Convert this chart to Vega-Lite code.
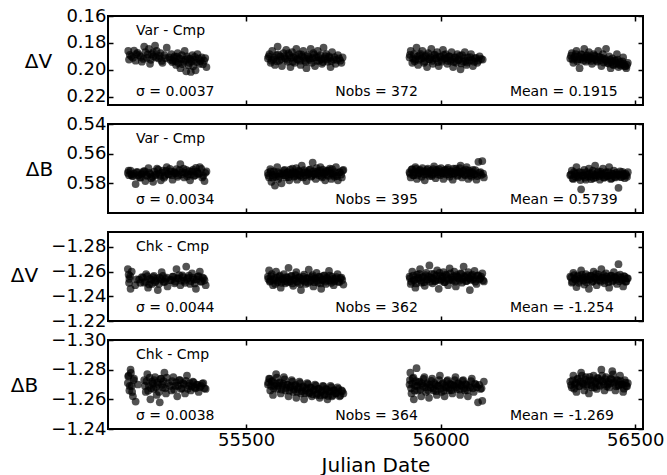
{
  "$schema": "https://vega.github.io/schema/vega-lite/v6.json",
  "padding": {"left": 9, "top": 6, "right": 2, "bottom": 1},
  "bounds": "flush",
  "spacing": 19,
  "config": {
    "view": {"stroke": "black", "strokeWidth": 2},
    "font": "DejaVu Sans",
    "axis": {
      "domain": false, "grid": false,
      "tickSize": -5, "tickWidth": 1.5, "tickColor": "black",
      "labelColor": "black", "labelFont": "DejaVu Sans", "labelFontSize": 18, "labelPadding": 7, "labelFlush": false,
      "titleColor": "black", "titleFont": "DejaVu Sans", "titleFontSize": 20, "titleFontWeight": "normal"
    },
    "circle": {"size": 60, "color": "black", "opacity": 0.68},
    "text": {"font": "DejaVu Sans", "fontSize": 14, "color": "black"}
  },
  "datasets": {
    "notes": [
      {"panel": 1, "label": "Var - Cmp", "jd": 55217, "mag": 0.1711},
      {"panel": 1, "label": "σ = 0.0037", "jd": 55217, "mag": 0.2160},
      {"panel": 1, "label": "Nobs = 372", "jd": 55729, "mag": 0.2160},
      {"panel": 1, "label": "Mean = 0.1915", "jd": 56178, "mag": 0.2160},
      {"panel": 2, "label": "Var - Cmp", "jd": 55217, "mag": 0.5501},
      {"panel": 2, "label": "σ = 0.0034", "jd": 55217, "mag": 0.5909},
      {"panel": 2, "label": "Nobs = 395", "jd": 55729, "mag": 0.5909},
      {"panel": 2, "label": "Mean = 0.5739", "jd": 56178, "mag": 0.5909},
      {"panel": 3, "label": "Chk - Cmp", "jd": 55217, "mag": -1.2799},
      {"panel": 3, "label": "σ = 0.0044", "jd": 55217, "mag": -1.2309},
      {"panel": 3, "label": "Nobs = 362", "jd": 55729, "mag": -1.2309},
      {"panel": 3, "label": "Mean = -1.254", "jd": 56178, "mag": -1.2309},
      {"panel": 4, "label": "Chk - Cmp", "jd": 55217, "mag": -1.2899},
      {"panel": 4, "label": "σ = 0.0038", "jd": 55217, "mag": -1.2491},
      {"panel": 4, "label": "Nobs = 364", "jd": 55729, "mag": -1.2491},
      {"panel": 4, "label": "Mean = -1.269", "jd": 56178, "mag": -1.2491}
    ],
    "varV": [
      {"jd":55197,"mag":0.1859},{"jd":55199,"mag":0.1923},{"jd":55205,"mag":0.1899},{"jd":55212,"mag":0.1856},{"jd":55218,"mag":0.1883},
      {"jd":55225,"mag":0.1891},{"jd":55232,"mag":0.1939},{"jd":55238,"mag":0.1827},{"jd":55241,"mag":0.1867},{"jd":55245,"mag":0.1910},
      {"jd":55250,"mag":0.1843},{"jd":55253,"mag":0.1955},{"jd":55258,"mag":0.1883},{"jd":55262,"mag":0.1899},{"jd":55266,"mag":0.1819},
      {"jd":55270,"mag":0.1859},{"jd":55275,"mag":0.1915},{"jd":55280,"mag":0.1875},{"jd":55285,"mag":0.1947},{"jd":55290,"mag":0.1891},
      {"jd":55296,"mag":0.1835},{"jd":55302,"mag":0.1907},{"jd":55308,"mag":0.1883},{"jd":55312,"mag":0.1931},{"jd":55316,"mag":0.1899},
      {"jd":55320,"mag":0.1963},{"jd":55324,"mag":0.1875},{"jd":55328,"mag":0.1915},{"jd":55331,"mag":0.1987},{"jd":55335,"mag":0.1891},
      {"jd":55339,"mag":0.1939},{"jd":55342,"mag":0.1859},{"jd":55346,"mag":0.2010},{"jd":55350,"mag":0.1915},{"jd":55354,"mag":0.1947},
      {"jd":55358,"mag":0.2015},{"jd":55362,"mag":0.1891},{"jd":55366,"mag":0.1923},{"jd":55370,"mag":0.2003},{"jd":55375,"mag":0.1883},
      {"jd":55380,"mag":0.1955},{"jd":55386,"mag":0.1907},{"jd":55392,"mag":0.1931},{"jd":55398,"mag":0.1979},
      {"jd":55201,"mag":0.1888},{"jd":55209,"mag":0.1910},{"jd":55216,"mag":0.1931},{"jd":55221,"mag":0.1873},{"jd":55229,"mag":0.1904},
      {"jd":55236,"mag":0.1918},{"jd":55247,"mag":0.1885},{"jd":55255,"mag":0.1925},{"jd":55261,"mag":0.1870},{"jd":55268,"mag":0.1907},
      {"jd":55277,"mag":0.1896},{"jd":55283,"mag":0.1933},{"jd":55293,"mag":0.1913},{"jd":55305,"mag":0.1925},{"jd":55310,"mag":0.1942},
      {"jd":55314,"mag":0.1910},{"jd":55319,"mag":0.1936},{"jd":55322,"mag":0.1901},{"jd":55326,"mag":0.1949},{"jd":55333,"mag":0.1920},
      {"jd":55337,"mag":0.1957},{"jd":55344,"mag":0.1926},{"jd":55348,"mag":0.1899},{"jd":55352,"mag":0.1965},{"jd":55356,"mag":0.1918},
      {"jd":55360,"mag":0.1937},{"jd":55364,"mag":0.1973},{"jd":55368,"mag":0.1904},{"jd":55373,"mag":0.1942},{"jd":55378,"mag":0.1917},
      {"jd":55383,"mag":0.1934},{"jd":55389,"mag":0.1957},{"jd":55395,"mag":0.1912},
      {"jd":55556,"mag":0.1915},{"jd":55560,"mag":0.1883},{"jd":55563,"mag":0.1947},{"jd":55567,"mag":0.1859},{"jd":55570,"mag":0.1923},
      {"jd":55574,"mag":0.1963},{"jd":55578,"mag":0.1891},{"jd":55581,"mag":0.1827},{"jd":55585,"mag":0.1931},{"jd":55588,"mag":0.1899},
      {"jd":55592,"mag":0.1971},{"jd":55596,"mag":0.1875},{"jd":55600,"mag":0.1915},{"jd":55603,"mag":0.1851},{"jd":55607,"mag":0.1939},
      {"jd":55611,"mag":0.1891},{"jd":55614,"mag":0.1979},{"jd":55618,"mag":0.1867},{"jd":55622,"mag":0.1907},{"jd":55625,"mag":0.1947},
      {"jd":55629,"mag":0.1843},{"jd":55633,"mag":0.1923},{"jd":55636,"mag":0.1883},{"jd":55640,"mag":0.1963},{"jd":55644,"mag":0.1899},
      {"jd":55647,"mag":0.1859},{"jd":55651,"mag":0.1931},{"jd":55655,"mag":0.1987},{"jd":55658,"mag":0.1891},{"jd":55662,"mag":0.1915},
      {"jd":55666,"mag":0.1843},{"jd":55669,"mag":0.1947},{"jd":55673,"mag":0.1875},{"jd":55677,"mag":0.1971},{"jd":55680,"mag":0.1907},
      {"jd":55684,"mag":0.1859},{"jd":55688,"mag":0.1931},{"jd":55691,"mag":0.1891},{"jd":55695,"mag":0.1955},{"jd":55699,"mag":0.1835},
      {"jd":55702,"mag":0.1915},{"jd":55706,"mag":0.1883},{"jd":55710,"mag":0.1939},{"jd":55713,"mag":0.1899},{"jd":55717,"mag":0.1979},
      {"jd":55721,"mag":0.1867},{"jd":55725,"mag":0.1923},{"jd":55730,"mag":0.1955},{"jd":55736,"mag":0.1891},{"jd":55742,"mag":0.1931},
      {"jd":55748,"mag":0.1907},
      {"jd":55558,"mag":0.1899},{"jd":55565,"mag":0.1931},{"jd":55572,"mag":0.1909},{"jd":55579,"mag":0.1936},{"jd":55583,"mag":0.1886},
      {"jd":55590,"mag":0.1920},{"jd":55598,"mag":0.1899},{"jd":55605,"mag":0.1925},{"jd":55609,"mag":0.1878},{"jd":55616,"mag":0.1910},
      {"jd":55620,"mag":0.1939},{"jd":55627,"mag":0.1896},{"jd":55631,"mag":0.1918},{"jd":55638,"mag":0.1931},{"jd":55642,"mag":0.1885},
      {"jd":55649,"mag":0.1910},{"jd":55653,"mag":0.1941},{"jd":55660,"mag":0.1901},{"jd":55664,"mag":0.1926},{"jd":55671,"mag":0.1913},
      {"jd":55675,"mag":0.1888},{"jd":55682,"mag":0.1933},{"jd":55686,"mag":0.1905},{"jd":55693,"mag":0.1920},{"jd":55697,"mag":0.1942},
      {"jd":55704,"mag":0.1897},{"jd":55708,"mag":0.1923},{"jd":55715,"mag":0.1910},{"jd":55719,"mag":0.1934},{"jd":55727,"mag":0.1905},
      {"jd":55733,"mag":0.1925},{"jd":55739,"mag":0.1915},{"jd":55745,"mag":0.1947},
      {"jd":55920,"mag":0.1907},{"jd":55923,"mag":0.1859},{"jd":55927,"mag":0.1947},{"jd":55931,"mag":0.1883},{"jd":55935,"mag":0.1923},
      {"jd":55938,"mag":0.1835},{"jd":55942,"mag":0.1963},{"jd":55946,"mag":0.1891},{"jd":55950,"mag":0.1915},{"jd":55953,"mag":0.1859},
      {"jd":55957,"mag":0.1947},{"jd":55961,"mag":0.1899},{"jd":55965,"mag":0.1979},{"jd":55968,"mag":0.1875},{"jd":55972,"mag":0.1923},
      {"jd":55976,"mag":0.1843},{"jd":55980,"mag":0.1955},{"jd":55983,"mag":0.1891},{"jd":55987,"mag":0.1915},{"jd":55991,"mag":0.1867},
      {"jd":55995,"mag":0.1971},{"jd":55998,"mag":0.1899},{"jd":56002,"mag":0.1939},{"jd":56006,"mag":0.1851},{"jd":56010,"mag":0.1915},
      {"jd":56013,"mag":0.1883},{"jd":56017,"mag":0.1955},{"jd":56021,"mag":0.1899},{"jd":56025,"mag":0.1931},{"jd":56028,"mag":0.1867},
      {"jd":56032,"mag":0.1979},{"jd":56036,"mag":0.1907},{"jd":56040,"mag":0.1947},{"jd":56043,"mag":0.1883},{"jd":56047,"mag":0.1923},
      {"jd":56051,"mag":0.1995},{"jd":56055,"mag":0.1891},{"jd":56058,"mag":0.1939},{"jd":56062,"mag":0.1867},{"jd":56066,"mag":0.1963},
      {"jd":56070,"mag":0.1907},{"jd":56074,"mag":0.1931},{"jd":56078,"mag":0.1883},{"jd":56083,"mag":0.1971},{"jd":56088,"mag":0.1915},
      {"jd":56094,"mag":0.1947},{"jd":56100,"mag":0.1899},{"jd":56108,"mag":0.1923},
      {"jd":55921,"mag":0.1888},{"jd":55929,"mag":0.1915},{"jd":55933,"mag":0.1936},{"jd":55940,"mag":0.1899},{"jd":55944,"mag":0.1925},
      {"jd":55948,"mag":0.1880},{"jd":55955,"mag":0.1910},{"jd":55959,"mag":0.1937},{"jd":55963,"mag":0.1891},{"jd":55970,"mag":0.1920},
      {"jd":55974,"mag":0.1905},{"jd":55978,"mag":0.1933},{"jd":55985,"mag":0.1886},{"jd":55989,"mag":0.1917},{"jd":55993,"mag":0.1942},
      {"jd":56000,"mag":0.1904},{"jd":56004,"mag":0.1925},{"jd":56008,"mag":0.1889},{"jd":56015,"mag":0.1913},{"jd":56019,"mag":0.1934},
      {"jd":56023,"mag":0.1899},{"jd":56030,"mag":0.1921},{"jd":56034,"mag":0.1941},{"jd":56038,"mag":0.1907},{"jd":56045,"mag":0.1929},
      {"jd":56049,"mag":0.1896},{"jd":56053,"mag":0.1952},{"jd":56060,"mag":0.1912},{"jd":56064,"mag":0.1933},{"jd":56068,"mag":0.1945},
      {"jd":56076,"mag":0.1905},{"jd":56081,"mag":0.1925},{"jd":56086,"mag":0.1939},{"jd":56091,"mag":0.1910},{"jd":56097,"mag":0.1931},
      {"jd":56104,"mag":0.1918},
      {"jd":56333,"mag":0.1915},{"jd":56337,"mag":0.1875},{"jd":56341,"mag":0.1947},{"jd":56345,"mag":0.1899},{"jd":56349,"mag":0.1859},
      {"jd":56353,"mag":0.1923},{"jd":56357,"mag":0.1987},{"jd":56361,"mag":0.1883},{"jd":56365,"mag":0.1907},{"jd":56369,"mag":0.1843},
      {"jd":56373,"mag":0.1939},{"jd":56377,"mag":0.1891},{"jd":56381,"mag":0.1867},{"jd":56385,"mag":0.1915},{"jd":56389,"mag":0.1955},
      {"jd":56393,"mag":0.1883},{"jd":56397,"mag":0.1899},{"jd":56401,"mag":0.1931},{"jd":56405,"mag":0.1859},{"jd":56409,"mag":0.1907},
      {"jd":56413,"mag":0.1971},{"jd":56417,"mag":0.1883},{"jd":56421,"mag":0.1923},{"jd":56425,"mag":0.1843},{"jd":56429,"mag":0.1947},
      {"jd":56433,"mag":0.1899},{"jd":56437,"mag":0.1987},{"jd":56441,"mag":0.1915},{"jd":56445,"mag":0.1963},{"jd":56449,"mag":0.1931},
      {"jd":56453,"mag":0.1883},{"jd":56457,"mag":0.1979},{"jd":56461,"mag":0.1939},{"jd":56465,"mag":0.1955},{"jd":56469,"mag":0.1907},
      {"jd":56473,"mag":0.1971},{"jd":56477,"mag":0.1987},{"jd":56481,"mag":0.1947},
      {"jd":56335,"mag":0.1894},{"jd":56339,"mag":0.1923},{"jd":56343,"mag":0.1912},{"jd":56347,"mag":0.1883},{"jd":56351,"mag":0.1936},
      {"jd":56355,"mag":0.1902},{"jd":56359,"mag":0.1920},{"jd":56363,"mag":0.1888},{"jd":56367,"mag":0.1931},{"jd":56371,"mag":0.1910},
      {"jd":56375,"mag":0.1896},{"jd":56379,"mag":0.1925},{"jd":56383,"mag":0.1905},{"jd":56387,"mag":0.1933},{"jd":56391,"mag":0.1915},
      {"jd":56395,"mag":0.1893},{"jd":56399,"mag":0.1921},{"jd":56403,"mag":0.1939},{"jd":56407,"mag":0.1904},{"jd":56411,"mag":0.1926},
      {"jd":56415,"mag":0.1910},{"jd":56419,"mag":0.1945},{"jd":56423,"mag":0.1918},{"jd":56427,"mag":0.1934},{"jd":56431,"mag":0.1953},
      {"jd":56435,"mag":0.1925},{"jd":56439,"mag":0.1939},{"jd":56443,"mag":0.1961},{"jd":56447,"mag":0.1931},{"jd":56451,"mag":0.1950},
      {"jd":56455,"mag":0.1923},{"jd":56459,"mag":0.1960},{"jd":56463,"mag":0.1968},{"jd":56467,"mag":0.1936},{"jd":56471,"mag":0.1955},
      {"jd":56475,"mag":0.1974},{"jd":56479,"mag":0.1963}
    ],
    "varB": [
      {"jd":55196,"mag":0.5730},{"jd":55199,"mag":0.5745},{"jd":55203,"mag":0.5715},{"jd":55207,"mag":0.5750},{"jd":55212,"mag":0.5735},
      {"jd":55216,"mag":0.5805},{"jd":55221,"mag":0.5725},{"jd":55226,"mag":0.5760},{"jd":55231,"mag":0.5740},{"jd":55236,"mag":0.5720},
      {"jd":55241,"mag":0.5785},{"jd":55246,"mag":0.5750},{"jd":55251,"mag":0.5730},{"jd":55256,"mag":0.5765},{"jd":55261,"mag":0.5790},
      {"jd":55266,"mag":0.5745},{"jd":55271,"mag":0.5700},{"jd":55276,"mag":0.5735},{"jd":55281,"mag":0.5780},{"jd":55286,"mag":0.5715},
      {"jd":55291,"mag":0.5750},{"jd":55296,"mag":0.5690},{"jd":55301,"mag":0.5740},{"jd":55306,"mag":0.5720},{"jd":55311,"mag":0.5775},
      {"jd":55316,"mag":0.5730},{"jd":55321,"mag":0.5705},{"jd":55326,"mag":0.5745},{"jd":55331,"mag":0.5670},{"jd":55336,"mag":0.5725},
      {"jd":55341,"mag":0.5760},{"jd":55346,"mag":0.5710},{"jd":55351,"mag":0.5740},{"jd":55356,"mag":0.5780},{"jd":55361,"mag":0.5720},
      {"jd":55366,"mag":0.5750},{"jd":55371,"mag":0.5695},{"jd":55376,"mag":0.5735},{"jd":55381,"mag":0.5690},{"jd":55387,"mag":0.5760},
      {"jd":55393,"mag":0.5785},{"jd":55398,"mag":0.5720},
      {"jd":55198,"mag":0.5714},{"jd":55205,"mag":0.5740},{"jd":55210,"mag":0.5751},{"jd":55218,"mag":0.5725},{"jd":55223,"mag":0.5745},
      {"jd":55229,"mag":0.5762},{"jd":55234,"mag":0.5732},{"jd":55239,"mag":0.5717},{"jd":55244,"mag":0.5743},{"jd":55249,"mag":0.5698},
      {"jd":55254,"mag":0.5738},{"jd":55259,"mag":0.5756},{"jd":55264,"mag":0.5721},{"jd":55269,"mag":0.5741},{"jd":55274,"mag":0.5708},
      {"jd":55279,"mag":0.5749},{"jd":55284,"mag":0.5727},{"jd":55289,"mag":0.5762},{"jd":55294,"mag":0.5716},{"jd":55299,"mag":0.5737},
      {"jd":55304,"mag":0.5703},{"jd":55309,"mag":0.5745},{"jd":55314,"mag":0.5722},{"jd":55319,"mag":0.5732},{"jd":55324,"mag":0.5756},
      {"jd":55329,"mag":0.5711},{"jd":55334,"mag":0.5740},{"jd":55339,"mag":0.5700},{"jd":55344,"mag":0.5729},{"jd":55349,"mag":0.5753},
      {"jd":55354,"mag":0.5717},{"jd":55359,"mag":0.5738},{"jd":55364,"mag":0.5708},{"jd":55369,"mag":0.5746},{"jd":55374,"mag":0.5721},
      {"jd":55379,"mag":0.5735},{"jd":55385,"mag":0.5703},{"jd":55390,"mag":0.5749},{"jd":55395,"mag":0.5729},
      {"jd":55556,"mag":0.5730},{"jd":55559,"mag":0.5760},{"jd":55562,"mag":0.5705},{"jd":55565,"mag":0.5790},{"jd":55568,"mag":0.5745},
      {"jd":55571,"mag":0.5720},{"jd":55574,"mag":0.5815},{"jd":55577,"mag":0.5755},{"jd":55580,"mag":0.5690},{"jd":55583,"mag":0.5770},
      {"jd":55587,"mag":0.5735},{"jd":55591,"mag":0.5800},{"jd":55595,"mag":0.5745},{"jd":55599,"mag":0.5710},{"jd":55603,"mag":0.5760},
      {"jd":55607,"mag":0.5725},{"jd":55611,"mag":0.5780},{"jd":55615,"mag":0.5740},{"jd":55619,"mag":0.5700},{"jd":55623,"mag":0.5755},
      {"jd":55627,"mag":0.5730},{"jd":55631,"mag":0.5775},{"jd":55635,"mag":0.5715},{"jd":55639,"mag":0.5745},{"jd":55643,"mag":0.5680},
      {"jd":55647,"mag":0.5760},{"jd":55651,"mag":0.5725},{"jd":55655,"mag":0.5785},{"jd":55659,"mag":0.5740},{"jd":55663,"mag":0.5710},
      {"jd":55667,"mag":0.5755},{"jd":55671,"mag":0.5660},{"jd":55675,"mag":0.5735},{"jd":55679,"mag":0.5770},{"jd":55683,"mag":0.5720},
      {"jd":55687,"mag":0.5745},{"jd":55691,"mag":0.5690},{"jd":55695,"mag":0.5760},{"jd":55699,"mag":0.5730},{"jd":55703,"mag":0.5780},
      {"jd":55707,"mag":0.5715},{"jd":55711,"mag":0.5750},{"jd":55715,"mag":0.5700},{"jd":55719,"mag":0.5770},{"jd":55723,"mag":0.5735},
      {"jd":55727,"mag":0.5755},{"jd":55731,"mag":0.5690},{"jd":55736,"mag":0.5780},{"jd":55741,"mag":0.5725},{"jd":55746,"mag":0.5760},
      {"jd":55750,"mag":0.5710},
      {"jd":55557,"mag":0.5746},{"jd":55563,"mag":0.5719},{"jd":55569,"mag":0.5762},{"jd":55575,"mag":0.5740},{"jd":55581,"mag":0.5724},
      {"jd":55586,"mag":0.5754},{"jd":55593,"mag":0.5732},{"jd":55597,"mag":0.5714},{"jd":55601,"mag":0.5745},{"jd":55605,"mag":0.5729},
      {"jd":55609,"mag":0.5759},{"jd":55613,"mag":0.5708},{"jd":55617,"mag":0.5737},{"jd":55621,"mag":0.5724},{"jd":55625,"mag":0.5749},
      {"jd":55629,"mag":0.5698},{"jd":55633,"mag":0.5741},{"jd":55637,"mag":0.5721},{"jd":55641,"mag":0.5756},{"jd":55645,"mag":0.5729},
      {"jd":55649,"mag":0.5711},{"jd":55653,"mag":0.5745},{"jd":55657,"mag":0.5725},{"jd":55661,"mag":0.5735},{"jd":55665,"mag":0.5706},
      {"jd":55669,"mag":0.5749},{"jd":55673,"mag":0.5719},{"jd":55677,"mag":0.5740},{"jd":55681,"mag":0.5698},{"jd":55685,"mag":0.5732},
      {"jd":55689,"mag":0.5714},{"jd":55693,"mag":0.5751},{"jd":55697,"mag":0.5708},{"jd":55701,"mag":0.5737},{"jd":55705,"mag":0.5722},
      {"jd":55709,"mag":0.5743},{"jd":55713,"mag":0.5713},{"jd":55717,"mag":0.5732},{"jd":55721,"mag":0.5705},{"jd":55725,"mag":0.5743},
      {"jd":55729,"mag":0.5724},{"jd":55734,"mag":0.5751},{"jd":55739,"mag":0.5727},{"jd":55744,"mag":0.5740},{"jd":55748,"mag":0.5714},
      {"jd":55920,"mag":0.5725},{"jd":55923,"mag":0.5760},{"jd":55927,"mag":0.5705},{"jd":55931,"mag":0.5745},{"jd":55935,"mag":0.5690},
      {"jd":55939,"mag":0.5770},{"jd":55943,"mag":0.5730},{"jd":55947,"mag":0.5710},{"jd":55951,"mag":0.5755},{"jd":55955,"mag":0.5720},
      {"jd":55959,"mag":0.5780},{"jd":55963,"mag":0.5735},{"jd":55967,"mag":0.5700},{"jd":55971,"mag":0.5750},{"jd":55975,"mag":0.5715},
      {"jd":55979,"mag":0.5740},{"jd":55983,"mag":0.5685},{"jd":55987,"mag":0.5765},{"jd":55991,"mag":0.5725},{"jd":55995,"mag":0.5705},
      {"jd":55999,"mag":0.5745},{"jd":56003,"mag":0.5730},{"jd":56007,"mag":0.5770},{"jd":56011,"mag":0.5710},{"jd":56015,"mag":0.5740},
      {"jd":56019,"mag":0.5695},{"jd":56023,"mag":0.5755},{"jd":56027,"mag":0.5720},{"jd":56031,"mag":0.5775},{"jd":56035,"mag":0.5735},
      {"jd":56039,"mag":0.5700},{"jd":56043,"mag":0.5750},{"jd":56047,"mag":0.5725},{"jd":56051,"mag":0.5680},{"jd":56055,"mag":0.5760},
      {"jd":56059,"mag":0.5715},{"jd":56063,"mag":0.5745},{"jd":56067,"mag":0.5690},{"jd":56071,"mag":0.5770},{"jd":56075,"mag":0.5730},
      {"jd":56079,"mag":0.5755},{"jd":56083,"mag":0.5710},{"jd":56087,"mag":0.5740},{"jd":56092,"mag":0.5775},{"jd":56097,"mag":0.5655},
      {"jd":56102,"mag":0.5725},{"jd":56107,"mag":0.5650},{"jd":56111,"mag":0.5760},
      {"jd":55921,"mag":0.5735},{"jd":55925,"mag":0.5708},{"jd":55929,"mag":0.5746},{"jd":55933,"mag":0.5724},{"jd":55937,"mag":0.5703},
      {"jd":55941,"mag":0.5743},{"jd":55945,"mag":0.5714},{"jd":55949,"mag":0.5732},{"jd":55953,"mag":0.5698},{"jd":55957,"mag":0.5740},
      {"jd":55961,"mag":0.5719},{"jd":55965,"mag":0.5709},{"jd":55969,"mag":0.5737},{"jd":55973,"mag":0.5724},{"jd":55977,"mag":0.5751},
      {"jd":55981,"mag":0.5705},{"jd":55985,"mag":0.5730},{"jd":55989,"mag":0.5711},{"jd":55993,"mag":0.5740},{"jd":55997,"mag":0.5721},
      {"jd":56001,"mag":0.5698},{"jd":56005,"mag":0.5735},{"jd":56009,"mag":0.5714},{"jd":56013,"mag":0.5727},{"jd":56017,"mag":0.5706},
      {"jd":56021,"mag":0.5741},{"jd":56025,"mag":0.5721},{"jd":56029,"mag":0.5735},{"jd":56033,"mag":0.5701},{"jd":56037,"mag":0.5729},
      {"jd":56041,"mag":0.5714},{"jd":56045,"mag":0.5743},{"jd":56049,"mag":0.5698},{"jd":56053,"mag":0.5732},{"jd":56057,"mag":0.5719},
      {"jd":56061,"mag":0.5740},{"jd":56065,"mag":0.5708},{"jd":56069,"mag":0.5733},{"jd":56073,"mag":0.5714},{"jd":56077,"mag":0.5745},
      {"jd":56081,"mag":0.5725},{"jd":56085,"mag":0.5737},{"jd":56089,"mag":0.5711},{"jd":56094,"mag":0.5751},{"jd":56099,"mag":0.5729},
      {"jd":56104,"mag":0.5743},{"jd":56109,"mag":0.5735},
      {"jd":56333,"mag":0.5745},{"jd":56337,"mag":0.5715},{"jd":56341,"mag":0.5770},{"jd":56345,"mag":0.5735},{"jd":56349,"mag":0.5690},
      {"jd":56353,"mag":0.5760},{"jd":56357,"mag":0.5725},{"jd":56361,"mag":0.5840},{"jd":56365,"mag":0.5750},{"jd":56369,"mag":0.5710},
      {"jd":56373,"mag":0.5775},{"jd":56377,"mag":0.5740},{"jd":56381,"mag":0.5700},{"jd":56385,"mag":0.5755},{"jd":56389,"mag":0.5730},
      {"jd":56393,"mag":0.5765},{"jd":56397,"mag":0.5680},{"jd":56401,"mag":0.5745},{"jd":56405,"mag":0.5720},{"jd":56409,"mag":0.5775},
      {"jd":56413,"mag":0.5735},{"jd":56417,"mag":0.5700},{"jd":56421,"mag":0.5760},{"jd":56425,"mag":0.5725},{"jd":56429,"mag":0.5750},
      {"jd":56433,"mag":0.5690},{"jd":56437,"mag":0.5770},{"jd":56441,"mag":0.5735},{"jd":56445,"mag":0.5715},{"jd":56449,"mag":0.5760},
      {"jd":56453,"mag":0.5740},{"jd":56457,"mag":0.5830},{"jd":56461,"mag":0.5720},{"jd":56465,"mag":0.5755},{"jd":56469,"mag":0.5735},
      {"jd":56473,"mag":0.5765},{"jd":56477,"mag":0.5745},{"jd":56481,"mag":0.5725},
      {"jd":56335,"mag":0.5740},{"jd":56339,"mag":0.5767},{"jd":56343,"mag":0.5724},{"jd":56347,"mag":0.5756},{"jd":56351,"mag":0.5735},
      {"jd":56355,"mag":0.5749},{"jd":56359,"mag":0.5778},{"jd":56363,"mag":0.5727},{"jd":56367,"mag":0.5745},{"jd":56371,"mag":0.5762},
      {"jd":56375,"mag":0.5725},{"jd":56379,"mag":0.5753},{"jd":56383,"mag":0.5735},{"jd":56387,"mag":0.5772},{"jd":56391,"mag":0.5714},
      {"jd":56395,"mag":0.5743},{"jd":56399,"mag":0.5759},{"jd":56403,"mag":0.5729},{"jd":56407,"mag":0.5751},{"jd":56411,"mag":0.5721},
      {"jd":56415,"mag":0.5743},{"jd":56419,"mag":0.5762},{"jd":56423,"mag":0.5732},{"jd":56427,"mag":0.5751},{"jd":56431,"mag":0.5724},
      {"jd":56435,"mag":0.5746},{"jd":56439,"mag":0.5767},{"jd":56443,"mag":0.5737},{"jd":56447,"mag":0.5756},{"jd":56451,"mag":0.5727},
      {"jd":56455,"mag":0.5749},{"jd":56459,"mag":0.5740},{"jd":56463,"mag":0.5759},{"jd":56467,"mag":0.5722},{"jd":56471,"mag":0.5746},
      {"jd":56475,"mag":0.5735},{"jd":56479,"mag":0.5756}
    ],
    "chkV": [
      {"jd":55196,"mag":-1.2620},{"jd":55198,"mag":-1.2575},{"jd":55200,"mag":-1.2540},{"jd":55203,"mag":-1.2460},{"jd":55206,"mag":-1.2600},
      {"jd":55215,"mag":-1.2490},{"jd":55225,"mag":-1.2535},{"jd":55232,"mag":-1.2555},{"jd":55238,"mag":-1.2510},{"jd":55243,"mag":-1.2580},
      {"jd":55248,"mag":-1.2470},{"jd":55253,"mag":-1.2540},{"jd":55258,"mag":-1.2500},{"jd":55263,"mag":-1.2565},{"jd":55268,"mag":-1.2525},
      {"jd":55273,"mag":-1.2450},{"jd":55278,"mag":-1.2550},{"jd":55283,"mag":-1.2595},{"jd":55288,"mag":-1.2515},{"jd":55293,"mag":-1.2540},
      {"jd":55298,"mag":-1.2480},{"jd":55305,"mag":-1.2530},{"jd":55311,"mag":-1.2560},{"jd":55316,"mag":-1.2505},{"jd":55321,"mag":-1.2620},
      {"jd":55326,"mag":-1.2545},{"jd":55331,"mag":-1.2490},{"jd":55336,"mag":-1.2570},{"jd":55341,"mag":-1.2525},{"jd":55346,"mag":-1.2640},
      {"jd":55351,"mag":-1.2550},{"jd":55356,"mag":-1.2500},{"jd":55361,"mag":-1.2585},{"jd":55366,"mag":-1.2535},{"jd":55371,"mag":-1.2460},
      {"jd":55376,"mag":-1.2560},{"jd":55381,"mag":-1.2600},{"jd":55386,"mag":-1.2520},{"jd":55391,"mag":-1.2545},{"jd":55396,"mag":-1.2490},
      {"jd":55199,"mag":-1.2509},{"jd":55202,"mag":-1.2563},{"jd":55219,"mag":-1.2536},{"jd":55228,"mag":-1.2509},{"jd":55235,"mag":-1.2550},
      {"jd":55241,"mag":-1.2518},{"jd":55246,"mag":-1.2563},{"jd":55251,"mag":-1.2496},{"jd":55256,"mag":-1.2532},{"jd":55261,"mag":-1.2554},
      {"jd":55266,"mag":-1.2514},{"jd":55271,"mag":-1.2545},{"jd":55276,"mag":-1.2500},{"jd":55281,"mag":-1.2536},{"jd":55286,"mag":-1.2565},
      {"jd":55291,"mag":-1.2518},{"jd":55296,"mag":-1.2550},{"jd":55308,"mag":-1.2532},{"jd":55313,"mag":-1.2558},{"jd":55318,"mag":-1.2518},
      {"jd":55323,"mag":-1.2545},{"jd":55328,"mag":-1.2572},{"jd":55333,"mag":-1.2527},{"jd":55338,"mag":-1.2554},{"jd":55343,"mag":-1.2509},
      {"jd":55348,"mag":-1.2540},{"jd":55353,"mag":-1.2568},{"jd":55358,"mag":-1.2523},{"jd":55363,"mag":-1.2550},{"jd":55368,"mag":-1.2504},
      {"jd":55373,"mag":-1.2536},{"jd":55378,"mag":-1.2563},{"jd":55383,"mag":-1.2518},{"jd":55388,"mag":-1.2550},{"jd":55393,"mag":-1.2529},
      {"jd":55556,"mag":-1.2560},{"jd":55559,"mag":-1.2610},{"jd":55562,"mag":-1.2525},{"jd":55566,"mag":-1.2580},{"jd":55569,"mag":-1.2490},
      {"jd":55573,"mag":-1.2545},{"jd":55577,"mag":-1.2600},{"jd":55581,"mag":-1.2515},{"jd":55585,"mag":-1.2560},{"jd":55589,"mag":-1.2470},
      {"jd":55593,"mag":-1.2535},{"jd":55597,"mag":-1.2580},{"jd":55601,"mag":-1.2505},{"jd":55605,"mag":-1.2550},{"jd":55609,"mag":-1.2630},
      {"jd":55613,"mag":-1.2520},{"jd":55617,"mag":-1.2565},{"jd":55621,"mag":-1.2485},{"jd":55625,"mag":-1.2540},{"jd":55629,"mag":-1.2595},
      {"jd":55633,"mag":-1.2510},{"jd":55637,"mag":-1.2555},{"jd":55641,"mag":-1.2450},{"jd":55645,"mag":-1.2530},{"jd":55649,"mag":-1.2575},
      {"jd":55653,"mag":-1.2500},{"jd":55657,"mag":-1.2545},{"jd":55661,"mag":-1.2615},{"jd":55665,"mag":-1.2520},{"jd":55669,"mag":-1.2560},
      {"jd":55673,"mag":-1.2480},{"jd":55677,"mag":-1.2540},{"jd":55681,"mag":-1.2590},{"jd":55685,"mag":-1.2510},{"jd":55689,"mag":-1.2555},
      {"jd":55693,"mag":-1.2460},{"jd":55697,"mag":-1.2530},{"jd":55701,"mag":-1.2570},{"jd":55705,"mag":-1.2500},{"jd":55709,"mag":-1.2545},
      {"jd":55713,"mag":-1.2605},{"jd":55717,"mag":-1.2525},{"jd":55721,"mag":-1.2560},{"jd":55725,"mag":-1.2490},{"jd":55730,"mag":-1.2540},
      {"jd":55735,"mag":-1.2580},{"jd":55740,"mag":-1.2515},{"jd":55745,"mag":-1.2550},{"jd":55750,"mag":-1.2495},
      {"jd":55557,"mag":-1.2540},{"jd":55561,"mag":-1.2518},{"jd":55564,"mag":-1.2563},{"jd":55571,"mag":-1.2532},{"jd":55575,"mag":-1.2500},
      {"jd":55579,"mag":-1.2550},{"jd":55583,"mag":-1.2527},{"jd":55587,"mag":-1.2568},{"jd":55591,"mag":-1.2509},{"jd":55595,"mag":-1.2545},
      {"jd":55599,"mag":-1.2522},{"jd":55603,"mag":-1.2554},{"jd":55607,"mag":-1.2514},{"jd":55611,"mag":-1.2536},{"jd":55615,"mag":-1.2563},
      {"jd":55619,"mag":-1.2504},{"jd":55623,"mag":-1.2532},{"jd":55627,"mag":-1.2572},{"jd":55631,"mag":-1.2522},{"jd":55635,"mag":-1.2549},
      {"jd":55639,"mag":-1.2500},{"jd":55643,"mag":-1.2540},{"jd":55647,"mag":-1.2559},{"jd":55651,"mag":-1.2518},{"jd":55655,"mag":-1.2545},
      {"jd":55659,"mag":-1.2509},{"jd":55663,"mag":-1.2554},{"jd":55667,"mag":-1.2532},{"jd":55671,"mag":-1.2572},{"jd":55675,"mag":-1.2514},
      {"jd":55679,"mag":-1.2547},{"jd":55683,"mag":-1.2527},{"jd":55687,"mag":-1.2558},{"jd":55691,"mag":-1.2504},{"jd":55695,"mag":-1.2536},
      {"jd":55699,"mag":-1.2565},{"jd":55703,"mag":-1.2518},{"jd":55707,"mag":-1.2550},{"jd":55711,"mag":-1.2529},{"jd":55715,"mag":-1.2568},
      {"jd":55719,"mag":-1.2509},{"jd":55723,"mag":-1.2541},{"jd":55727,"mag":-1.2523},{"jd":55732,"mag":-1.2554},{"jd":55737,"mag":-1.2518},
      {"jd":55742,"mag":-1.2547},{"jd":55747,"mag":-1.2532},
      {"jd":55920,"mag":-1.2560},{"jd":55923,"mag":-1.2500},{"jd":55927,"mag":-1.2600},{"jd":55931,"mag":-1.2530},{"jd":55935,"mag":-1.2470},
      {"jd":55939,"mag":-1.2575},{"jd":55943,"mag":-1.2545},{"jd":55947,"mag":-1.2620},{"jd":55951,"mag":-1.2510},{"jd":55955,"mag":-1.2560},
      {"jd":55959,"mag":-1.2485},{"jd":55963,"mag":-1.2590},{"jd":55967,"mag":-1.2535},{"jd":55971,"mag":-1.2650},{"jd":55975,"mag":-1.2550},
      {"jd":55979,"mag":-1.2505},{"jd":55983,"mag":-1.2580},{"jd":55987,"mag":-1.2525},{"jd":55991,"mag":-1.2610},{"jd":55995,"mag":-1.2460},
      {"jd":55999,"mag":-1.2565},{"jd":56003,"mag":-1.2540},{"jd":56007,"mag":-1.2595},{"jd":56011,"mag":-1.2515},{"jd":56015,"mag":-1.2570},
      {"jd":56019,"mag":-1.2490},{"jd":56023,"mag":-1.2625},{"jd":56027,"mag":-1.2550},{"jd":56031,"mag":-1.2530},{"jd":56035,"mag":-1.2600},
      {"jd":56039,"mag":-1.2480},{"jd":56043,"mag":-1.2560},{"jd":56047,"mag":-1.2540},{"jd":56051,"mag":-1.2585},{"jd":56055,"mag":-1.2510},
      {"jd":56059,"mag":-1.2640},{"jd":56063,"mag":-1.2555},{"jd":56067,"mag":-1.2525},{"jd":56071,"mag":-1.2595},{"jd":56075,"mag":-1.2450},
      {"jd":56079,"mag":-1.2565},{"jd":56083,"mag":-1.2535},{"jd":56087,"mag":-1.2605},{"jd":56092,"mag":-1.2500},{"jd":56097,"mag":-1.2570},
      {"jd":56102,"mag":-1.2545},{"jd":56107,"mag":-1.2585},{"jd":56111,"mag":-1.2520},
      {"jd":55921,"mag":-1.2545},{"jd":55925,"mag":-1.2518},{"jd":55929,"mag":-1.2568},{"jd":55933,"mag":-1.2532},{"jd":55937,"mag":-1.2504},
      {"jd":55941,"mag":-1.2554},{"jd":55945,"mag":-1.2581},{"jd":55949,"mag":-1.2527},{"jd":55953,"mag":-1.2550},{"jd":55957,"mag":-1.2514},
      {"jd":55961,"mag":-1.2572},{"jd":55965,"mag":-1.2536},{"jd":55969,"mag":-1.2559},{"jd":55973,"mag":-1.2518},{"jd":55977,"mag":-1.2581},
      {"jd":55981,"mag":-1.2545},{"jd":55985,"mag":-1.2522},{"jd":55989,"mag":-1.2568},{"jd":55993,"mag":-1.2536},{"jd":55997,"mag":-1.2590},
      {"jd":56001,"mag":-1.2527},{"jd":56005,"mag":-1.2558},{"jd":56009,"mag":-1.2514},{"jd":56013,"mag":-1.2576},{"jd":56017,"mag":-1.2545},
      {"jd":56021,"mag":-1.2532},{"jd":56025,"mag":-1.2586},{"jd":56029,"mag":-1.2536},{"jd":56033,"mag":-1.2563},{"jd":56037,"mag":-1.2518},
      {"jd":56041,"mag":-1.2572},{"jd":56045,"mag":-1.2550},{"jd":56049,"mag":-1.2527},{"jd":56053,"mag":-1.2581},{"jd":56057,"mag":-1.2540},
      {"jd":56061,"mag":-1.2563},{"jd":56065,"mag":-1.2522},{"jd":56069,"mag":-1.2572},{"jd":56073,"mag":-1.2545},{"jd":56077,"mag":-1.2532},
      {"jd":56081,"mag":-1.2576},{"jd":56085,"mag":-1.2550},{"jd":56089,"mag":-1.2518},{"jd":56094,"mag":-1.2568},{"jd":56099,"mag":-1.2536},
      {"jd":56104,"mag":-1.2558},{"jd":56109,"mag":-1.2529},
      {"jd":56333,"mag":-1.2560},{"jd":56337,"mag":-1.2510},{"jd":56341,"mag":-1.2590},{"jd":56345,"mag":-1.2540},{"jd":56349,"mag":-1.2475},
      {"jd":56353,"mag":-1.2570},{"jd":56357,"mag":-1.2525},{"jd":56361,"mag":-1.2610},{"jd":56365,"mag":-1.2550},{"jd":56369,"mag":-1.2495},
      {"jd":56373,"mag":-1.2580},{"jd":56377,"mag":-1.2535},{"jd":56381,"mag":-1.2460},{"jd":56385,"mag":-1.2565},{"jd":56389,"mag":-1.2515},
      {"jd":56393,"mag":-1.2600},{"jd":56397,"mag":-1.2545},{"jd":56401,"mag":-1.2490},{"jd":56405,"mag":-1.2575},{"jd":56409,"mag":-1.2530},
      {"jd":56413,"mag":-1.2620},{"jd":56417,"mag":-1.2555},{"jd":56421,"mag":-1.2505},{"jd":56425,"mag":-1.2585},{"jd":56429,"mag":-1.2540},
      {"jd":56433,"mag":-1.2470},{"jd":56437,"mag":-1.2565},{"jd":56441,"mag":-1.2520},{"jd":56445,"mag":-1.2595},{"jd":56449,"mag":-1.2550},
      {"jd":56453,"mag":-1.2500},{"jd":56457,"mag":-1.2660},{"jd":56461,"mag":-1.2575},{"jd":56465,"mag":-1.2535},{"jd":56469,"mag":-1.2480},
      {"jd":56473,"mag":-1.2560},{"jd":56477,"mag":-1.2520},{"jd":56481,"mag":-1.2545},
      {"jd":56335,"mag":-1.2550},{"jd":56339,"mag":-1.2518},{"jd":56343,"mag":-1.2572},{"jd":56347,"mag":-1.2532},{"jd":56351,"mag":-1.2558},
      {"jd":56355,"mag":-1.2509},{"jd":56359,"mag":-1.2545},{"jd":56363,"mag":-1.2576},{"jd":56367,"mag":-1.2527},{"jd":56371,"mag":-1.2554},
      {"jd":56375,"mag":-1.2514},{"jd":56379,"mag":-1.2563},{"jd":56383,"mag":-1.2536},{"jd":56387,"mag":-1.2568},{"jd":56391,"mag":-1.2522},
      {"jd":56395,"mag":-1.2550},{"jd":56399,"mag":-1.2581},{"jd":56403,"mag":-1.2532},{"jd":56407,"mag":-1.2559},{"jd":56411,"mag":-1.2518},
      {"jd":56415,"mag":-1.2549},{"jd":56419,"mag":-1.2572},{"jd":56423,"mag":-1.2529},{"jd":56427,"mag":-1.2558},{"jd":56431,"mag":-1.2514},
      {"jd":56435,"mag":-1.2545},{"jd":56439,"mag":-1.2568},{"jd":56443,"mag":-1.2527},{"jd":56447,"mag":-1.2554},{"jd":56451,"mag":-1.2536},
      {"jd":56455,"mag":-1.2565},{"jd":56459,"mag":-1.2522},{"jd":56463,"mag":-1.2550},{"jd":56467,"mag":-1.2532},{"jd":56471,"mag":-1.2563},
      {"jd":56475,"mag":-1.2518},{"jd":56479,"mag":-1.2545}
    ],
    "chkB": [
      {"jd":55196,"mag":-1.2710},{"jd":55198,"mag":-1.2760},{"jd":55200,"mag":-1.2660},{"jd":55203,"mag":-1.2800},{"jd":55206,"mag":-1.2690},
      {"jd":55209,"mag":-1.2620},{"jd":55212,"mag":-1.2740},{"jd":55216,"mag":-1.2585},{"jd":55222,"mag":-1.2700},{"jd":55238,"mag":-1.2730},
      {"jd":55242,"mag":-1.2650},{"jd":55246,"mag":-1.2770},{"jd":55250,"mag":-1.2690},{"jd":55254,"mag":-1.2600},{"jd":55258,"mag":-1.2720},
      {"jd":55262,"mag":-1.2670},{"jd":55266,"mag":-1.2750},{"jd":55270,"mag":-1.2630},{"jd":55274,"mag":-1.2700},{"jd":55278,"mag":-1.2580},
      {"jd":55282,"mag":-1.2740},{"jd":55286,"mag":-1.2680},{"jd":55290,"mag":-1.2780},{"jd":55294,"mag":-1.2640},{"jd":55300,"mag":-1.2710},
      {"jd":55308,"mag":-1.2660},{"jd":55313,"mag":-1.2750},{"jd":55318,"mag":-1.2690},{"jd":55323,"mag":-1.2620},{"jd":55328,"mag":-1.2730},
      {"jd":55333,"mag":-1.2670},{"jd":55338,"mag":-1.2710},{"jd":55343,"mag":-1.2640},{"jd":55348,"mag":-1.2760},{"jd":55353,"mag":-1.2690},
      {"jd":55358,"mag":-1.2660},{"jd":55363,"mag":-1.2720},{"jd":55368,"mag":-1.2680},{"jd":55373,"mag":-1.2700},{"jd":55378,"mag":-1.2650},
      {"jd":55384,"mag":-1.2690},{"jd":55390,"mag":-1.2710},{"jd":55396,"mag":-1.2670},
      {"jd":55197,"mag":-1.2754},{"jd":55201,"mag":-1.2690},{"jd":55204,"mag":-1.2778},{"jd":55207,"mag":-1.2650},{"jd":55211,"mag":-1.2730},
      {"jd":55240,"mag":-1.2690},{"jd":55244,"mag":-1.2722},{"jd":55248,"mag":-1.2658},{"jd":55252,"mag":-1.2746},{"jd":55256,"mag":-1.2674},
      {"jd":55260,"mag":-1.2706},{"jd":55264,"mag":-1.2730},{"jd":55268,"mag":-1.2682},{"jd":55272,"mag":-1.2714},{"jd":55276,"mag":-1.2650},
      {"jd":55280,"mag":-1.2738},{"jd":55284,"mag":-1.2698},{"jd":55288,"mag":-1.2722},{"jd":55292,"mag":-1.2674},{"jd":55296,"mag":-1.2746},
      {"jd":55304,"mag":-1.2690},{"jd":55310,"mag":-1.2722},{"jd":55315,"mag":-1.2666},{"jd":55320,"mag":-1.2714},{"jd":55325,"mag":-1.2690},
      {"jd":55330,"mag":-1.2730},{"jd":55335,"mag":-1.2674},{"jd":55340,"mag":-1.2703},{"jd":55345,"mag":-1.2725},{"jd":55350,"mag":-1.2671},
      {"jd":55355,"mag":-1.2709},{"jd":55360,"mag":-1.2687},{"jd":55365,"mag":-1.2714},{"jd":55370,"mag":-1.2674},{"jd":55375,"mag":-1.2698},
      {"jd":55381,"mag":-1.2682},{"jd":55387,"mag":-1.2706},{"jd":55393,"mag":-1.2674},
      {"jd":55556,"mag":-1.2700},{"jd":55559,"mag":-1.2740},{"jd":55562,"mag":-1.2660},{"jd":55566,"mag":-1.2720},{"jd":55569,"mag":-1.2630},
      {"jd":55573,"mag":-1.2690},{"jd":55577,"mag":-1.2770},{"jd":55581,"mag":-1.2670},{"jd":55585,"mag":-1.2710},{"jd":55589,"mag":-1.2640},
      {"jd":55593,"mag":-1.2690},{"jd":55597,"mag":-1.2750},{"jd":55601,"mag":-1.2660},{"jd":55605,"mag":-1.2700},{"jd":55609,"mag":-1.2620},
      {"jd":55613,"mag":-1.2680},{"jd":55617,"mag":-1.2730},{"jd":55621,"mag":-1.2650},{"jd":55625,"mag":-1.2690},{"jd":55629,"mag":-1.2610},
      {"jd":55633,"mag":-1.2670},{"jd":55637,"mag":-1.2720},{"jd":55641,"mag":-1.2640},{"jd":55645,"mag":-1.2680},{"jd":55649,"mag":-1.2600},
      {"jd":55653,"mag":-1.2660},{"jd":55657,"mag":-1.2710},{"jd":55661,"mag":-1.2640},{"jd":55665,"mag":-1.2680},{"jd":55669,"mag":-1.2620},
      {"jd":55673,"mag":-1.2660},{"jd":55677,"mag":-1.2700},{"jd":55681,"mag":-1.2630},{"jd":55685,"mag":-1.2670},{"jd":55689,"mag":-1.2610},
      {"jd":55693,"mag":-1.2650},{"jd":55697,"mag":-1.2690},{"jd":55701,"mag":-1.2630},{"jd":55705,"mag":-1.2670},{"jd":55709,"mag":-1.2600},
      {"jd":55713,"mag":-1.2650},{"jd":55717,"mag":-1.2690},{"jd":55721,"mag":-1.2620},{"jd":55725,"mag":-1.2660},{"jd":55730,"mag":-1.2640},
      {"jd":55735,"mag":-1.2680},{"jd":55740,"mag":-1.2620},{"jd":55745,"mag":-1.2660},{"jd":55750,"mag":-1.2640},
      {"jd":55557,"mag":-1.2714},{"jd":55561,"mag":-1.2738},{"jd":55564,"mag":-1.2690},{"jd":55568,"mag":-1.2725},{"jd":55571,"mag":-1.2674},
      {"jd":55575,"mag":-1.2706},{"jd":55579,"mag":-1.2746},{"jd":55583,"mag":-1.2690},{"jd":55587,"mag":-1.2714},{"jd":55591,"mag":-1.2666},
      {"jd":55595,"mag":-1.2706},{"jd":55599,"mag":-1.2735},{"jd":55603,"mag":-1.2677},{"jd":55607,"mag":-1.2698},{"jd":55611,"mag":-1.2658},
      {"jd":55615,"mag":-1.2690},{"jd":55619,"mag":-1.2719},{"jd":55623,"mag":-1.2666},{"jd":55627,"mag":-1.2698},{"jd":55631,"mag":-1.2650},
      {"jd":55635,"mag":-1.2682},{"jd":55639,"mag":-1.2709},{"jd":55643,"mag":-1.2655},{"jd":55647,"mag":-1.2687},{"jd":55651,"mag":-1.2642},
      {"jd":55655,"mag":-1.2674},{"jd":55659,"mag":-1.2703},{"jd":55663,"mag":-1.2645},{"jd":55667,"mag":-1.2677},{"jd":55671,"mag":-1.2634},
      {"jd":55675,"mag":-1.2666},{"jd":55679,"mag":-1.2693},{"jd":55683,"mag":-1.2639},{"jd":55687,"mag":-1.2671},{"jd":55691,"mag":-1.2626},
      {"jd":55695,"mag":-1.2658},{"jd":55699,"mag":-1.2687},{"jd":55703,"mag":-1.2634},{"jd":55707,"mag":-1.2666},{"jd":55711,"mag":-1.2623},
      {"jd":55715,"mag":-1.2655},{"jd":55719,"mag":-1.2682},{"jd":55723,"mag":-1.2629},{"jd":55727,"mag":-1.2661},{"jd":55732,"mag":-1.2642},
      {"jd":55737,"mag":-1.2671},{"jd":55742,"mag":-1.2626},{"jd":55747,"mag":-1.2655},
      {"jd":55920,"mag":-1.2700},{"jd":55922,"mag":-1.2780},{"jd":55925,"mag":-1.2640},{"jd":55928,"mag":-1.2740},{"jd":55931,"mag":-1.2600},
      {"jd":55934,"mag":-1.2690},{"jd":55938,"mag":-1.2810},{"jd":55942,"mag":-1.2660},{"jd":55946,"mag":-1.2720},{"jd":55950,"mag":-1.2620},
      {"jd":55954,"mag":-1.2690},{"jd":55958,"mag":-1.2750},{"jd":55962,"mag":-1.2650},{"jd":55966,"mag":-1.2710},{"jd":55970,"mag":-1.2610},
      {"jd":55974,"mag":-1.2680},{"jd":55978,"mag":-1.2740},{"jd":55982,"mag":-1.2660},{"jd":55986,"mag":-1.2700},{"jd":55990,"mag":-1.2630},
      {"jd":55994,"mag":-1.2690},{"jd":55998,"mag":-1.2760},{"jd":56002,"mag":-1.2650},{"jd":56006,"mag":-1.2710},{"jd":56010,"mag":-1.2620},
      {"jd":56014,"mag":-1.2680},{"jd":56018,"mag":-1.2730},{"jd":56022,"mag":-1.2660},{"jd":56026,"mag":-1.2700},{"jd":56030,"mag":-1.2640},
      {"jd":56034,"mag":-1.2690},{"jd":56038,"mag":-1.2750},{"jd":56042,"mag":-1.2670},{"jd":56046,"mag":-1.2710},{"jd":56050,"mag":-1.2630},
      {"jd":56054,"mag":-1.2690},{"jd":56058,"mag":-1.2730},{"jd":56062,"mag":-1.2660},{"jd":56066,"mag":-1.2700},{"jd":56070,"mag":-1.2620},
      {"jd":56075,"mag":-1.2680},{"jd":56080,"mag":-1.2740},{"jd":56085,"mag":-1.2650},{"jd":56090,"mag":-1.2700},{"jd":56096,"mag":-1.2580},
      {"jd":56102,"mag":-1.2670},{"jd":56107,"mag":-1.2590},{"jd":56111,"mag":-1.2720},
      {"jd":55921,"mag":-1.2730},{"jd":55924,"mag":-1.2674},{"jd":55927,"mag":-1.2706},{"jd":55930,"mag":-1.2746},{"jd":55933,"mag":-1.2658},
      {"jd":55936,"mag":-1.2722},{"jd":55940,"mag":-1.2690},{"jd":55944,"mag":-1.2714},{"jd":55948,"mag":-1.2666},{"jd":55952,"mag":-1.2706},
      {"jd":55956,"mag":-1.2738},{"jd":55960,"mag":-1.2682},{"jd":55964,"mag":-1.2703},{"jd":55968,"mag":-1.2661},{"jd":55972,"mag":-1.2698},
      {"jd":55976,"mag":-1.2725},{"jd":55980,"mag":-1.2674},{"jd":55984,"mag":-1.2709},{"jd":55988,"mag":-1.2655},{"jd":55992,"mag":-1.2693},
      {"jd":55996,"mag":-1.2730},{"jd":56000,"mag":-1.2671},{"jd":56004,"mag":-1.2703},{"jd":56008,"mag":-1.2658},{"jd":56012,"mag":-1.2690},
      {"jd":56016,"mag":-1.2722},{"jd":56020,"mag":-1.2677},{"jd":56024,"mag":-1.2706},{"jd":56028,"mag":-1.2661},{"jd":56032,"mag":-1.2698},
      {"jd":56036,"mag":-1.2730},{"jd":56040,"mag":-1.2682},{"jd":56044,"mag":-1.2706},{"jd":56048,"mag":-1.2666},{"jd":56052,"mag":-1.2698},
      {"jd":56056,"mag":-1.2725},{"jd":56060,"mag":-1.2674},{"jd":56064,"mag":-1.2703},{"jd":56068,"mag":-1.2661},{"jd":56073,"mag":-1.2693},
      {"jd":56078,"mag":-1.2722},{"jd":56083,"mag":-1.2674},{"jd":56088,"mag":-1.2706},{"jd":56093,"mag":-1.2682},{"jd":56099,"mag":-1.2698},
      {"jd":56105,"mag":-1.2674},
      {"jd":56333,"mag":-1.2720},{"jd":56337,"mag":-1.2680},{"jd":56341,"mag":-1.2760},{"jd":56345,"mag":-1.2700},{"jd":56349,"mag":-1.2650},
      {"jd":56353,"mag":-1.2740},{"jd":56357,"mag":-1.2690},{"jd":56361,"mag":-1.2780},{"jd":56365,"mag":-1.2710},{"jd":56369,"mag":-1.2660},
      {"jd":56373,"mag":-1.2750},{"jd":56377,"mag":-1.2700},{"jd":56381,"mag":-1.2640},{"jd":56385,"mag":-1.2730},{"jd":56389,"mag":-1.2680},
      {"jd":56393,"mag":-1.2760},{"jd":56397,"mag":-1.2710},{"jd":56401,"mag":-1.2670},{"jd":56405,"mag":-1.2740},{"jd":56409,"mag":-1.2690},
      {"jd":56413,"mag":-1.2800},{"jd":56417,"mag":-1.2720},{"jd":56421,"mag":-1.2660},{"jd":56425,"mag":-1.2750},{"jd":56429,"mag":-1.2700},
      {"jd":56433,"mag":-1.2680},{"jd":56437,"mag":-1.2740},{"jd":56441,"mag":-1.2790},{"jd":56445,"mag":-1.2710},{"jd":56449,"mag":-1.2660},
      {"jd":56453,"mag":-1.2730},{"jd":56457,"mag":-1.2690},{"jd":56461,"mag":-1.2760},{"jd":56465,"mag":-1.2700},{"jd":56469,"mag":-1.2650},
      {"jd":56473,"mag":-1.2730},{"jd":56477,"mag":-1.2690},{"jd":56481,"mag":-1.2710},
      {"jd":56335,"mag":-1.2696},{"jd":56339,"mag":-1.2728},{"jd":56343,"mag":-1.2672},{"jd":56347,"mag":-1.2712},{"jd":56351,"mag":-1.2736},
      {"jd":56355,"mag":-1.2688},{"jd":56359,"mag":-1.2720},{"jd":56363,"mag":-1.2760},{"jd":56367,"mag":-1.2704},{"jd":56371,"mag":-1.2733},
      {"jd":56375,"mag":-1.2688},{"jd":56379,"mag":-1.2723},{"jd":56383,"mag":-1.2752},{"jd":56387,"mag":-1.2696},{"jd":56391,"mag":-1.2728},
      {"jd":56395,"mag":-1.2680},{"jd":56399,"mag":-1.2717},{"jd":56403,"mag":-1.2744},{"jd":56407,"mag":-1.2696},{"jd":56411,"mag":-1.2728},
      {"jd":56415,"mag":-1.2760},{"jd":56419,"mag":-1.2704},{"jd":56423,"mag":-1.2736},{"jd":56427,"mag":-1.2688},{"jd":56431,"mag":-1.2720},
      {"jd":56435,"mag":-1.2707},{"jd":56439,"mag":-1.2736},{"jd":56443,"mag":-1.2768},{"jd":56447,"mag":-1.2717},{"jd":56451,"mag":-1.2688},
      {"jd":56455,"mag":-1.2728},{"jd":56459,"mag":-1.2696},{"jd":56463,"mag":-1.2723},{"jd":56467,"mag":-1.2701},{"jd":56471,"mag":-1.2672},
      {"jd":56475,"mag":-1.2712},{"jd":56479,"mag":-1.2688}
    ]
  },
  "vconcat": [
    {
      "width": 535, "height": 89,
      "layer": [
        {
          "data": {"name": "varV"},
          "mark": {"type": "circle"},
          "encoding": {
            "x": {"field": "jd", "type": "quantitative", "scale": {"domain": [55145, 56520], "nice": false, "zero": false},
                  "axis": {"orient": "bottom", "values": [55500, 56000, 56500], "labels": false, "title": null}},
            "y": {"field": "mag", "type": "quantitative", "scale": {"domain": [0.16, 0.226], "reverse": true, "nice": false, "zero": false},
                  "axis": {"orient": "left", "values": [0.16, 0.18, 0.20, 0.22], "format": ".2f", "title": "ΔV",
                           "titleAngle": 0, "titleAlign": "center", "titleBaseline": "middle", "titleX": -70, "titleY": 45}}
          }
        },
        {
          "data": {"name": "notes"},
          "transform": [{"filter": "datum.panel == 1"}],
          "mark": {"type": "text", "align": "left", "baseline": "middle"},
          "encoding": {
            "x": {"field": "jd", "type": "quantitative", "axis": {"orient": "top", "values": [55500, 56000, 56500], "labels": false, "title": null}},
            "y": {"field": "mag", "type": "quantitative", "axis": {"orient": "right", "values": [0.16, 0.18, 0.20, 0.22], "labels": false, "title": null}},
            "text": {"field": "label"}
          }
        }
      ],
      "resolve": {"axis": {"x": "independent", "y": "independent"}}
    },
    {
      "width": 535, "height": 89,
      "layer": [
        {
          "data": {"name": "varB"},
          "mark": {"type": "circle"},
          "encoding": {
            "x": {"field": "jd", "type": "quantitative", "scale": {"domain": [55145, 56520], "nice": false, "zero": false},
                  "axis": {"orient": "bottom", "values": [55500, 56000, 56500], "labels": false, "title": null}},
            "y": {"field": "mag", "type": "quantitative", "scale": {"domain": [0.54, 0.60], "reverse": true, "nice": false, "zero": false},
                  "axis": {"orient": "left", "values": [0.54, 0.56, 0.58], "format": ".2f", "title": "ΔB",
                           "titleAngle": 0, "titleAlign": "center", "titleBaseline": "middle", "titleX": -69, "titleY": 45}}
          }
        },
        {
          "data": {"name": "notes"},
          "transform": [{"filter": "datum.panel == 2"}],
          "mark": {"type": "text", "align": "left", "baseline": "middle"},
          "encoding": {
            "x": {"field": "jd", "type": "quantitative", "axis": {"orient": "top", "values": [55500, 56000, 56500], "labels": false, "title": null}},
            "y": {"field": "mag", "type": "quantitative", "axis": {"orient": "right", "values": [0.54, 0.56, 0.58], "labels": false, "title": null}},
            "text": {"field": "label"}
          }
        }
      ],
      "resolve": {"axis": {"x": "independent", "y": "independent"}}
    },
    {
      "width": 535, "height": 89,
      "layer": [
        {
          "data": {"name": "chkV"},
          "mark": {"type": "circle"},
          "encoding": {
            "x": {"field": "jd", "type": "quantitative", "scale": {"domain": [55145, 56520], "nice": false, "zero": false},
                  "axis": {"orient": "bottom", "values": [55500, 56000, 56500], "labels": false, "title": null}},
            "y": {"field": "mag", "type": "quantitative", "scale": {"domain": [-1.292, -1.22], "reverse": true, "nice": false, "zero": false},
                  "axis": {"orient": "left", "values": [-1.28, -1.26, -1.24, -1.22], "format": ".2f", "title": "ΔV",
                           "titleAngle": 0, "titleAlign": "center", "titleBaseline": "middle", "titleX": -84, "titleY": 43}}
          }
        },
        {
          "data": {"name": "notes"},
          "transform": [{"filter": "datum.panel == 3"}],
          "mark": {"type": "text", "align": "left", "baseline": "middle"},
          "encoding": {
            "x": {"field": "jd", "type": "quantitative", "axis": {"orient": "top", "values": [55500, 56000, 56500], "labels": false, "title": null}},
            "y": {"field": "mag", "type": "quantitative", "axis": {"orient": "right", "values": [-1.28, -1.26, -1.24, -1.22], "labels": false, "title": null}},
            "text": {"field": "label"}
          }
        }
      ],
      "resolve": {"axis": {"x": "independent", "y": "independent"}}
    },
    {
      "width": 535, "height": 89,
      "layer": [
        {
          "data": {"name": "chkB"},
          "mark": {"type": "circle"},
          "encoding": {
            "x": {"field": "jd", "type": "quantitative", "scale": {"domain": [55145, 56520], "nice": false, "zero": false},
                  "axis": {"orient": "bottom", "values": [55500, 56000, 56500], "format": "d", "title": "Julian Date", "titlePadding": 6}},
            "y": {"field": "mag", "type": "quantitative", "scale": {"domain": [-1.30, -1.24], "reverse": true, "nice": false, "zero": false},
                  "axis": {"orient": "left", "values": [-1.30, -1.28, -1.26, -1.24], "format": ".2f", "title": "ΔB",
                           "titleAngle": 0, "titleAlign": "center", "titleBaseline": "middle", "titleX": -84, "titleY": 45}}
          }
        },
        {
          "data": {"name": "notes"},
          "transform": [{"filter": "datum.panel == 4"}],
          "mark": {"type": "text", "align": "left", "baseline": "middle"},
          "encoding": {
            "x": {"field": "jd", "type": "quantitative", "axis": {"orient": "top", "values": [55500, 56000, 56500], "labels": false, "title": null}},
            "y": {"field": "mag", "type": "quantitative", "axis": {"orient": "right", "values": [-1.30, -1.28, -1.26, -1.24], "labels": false, "title": null}},
            "text": {"field": "label"}
          }
        }
      ],
      "resolve": {"axis": {"x": "independent", "y": "independent"}}
    }
  ]
}
